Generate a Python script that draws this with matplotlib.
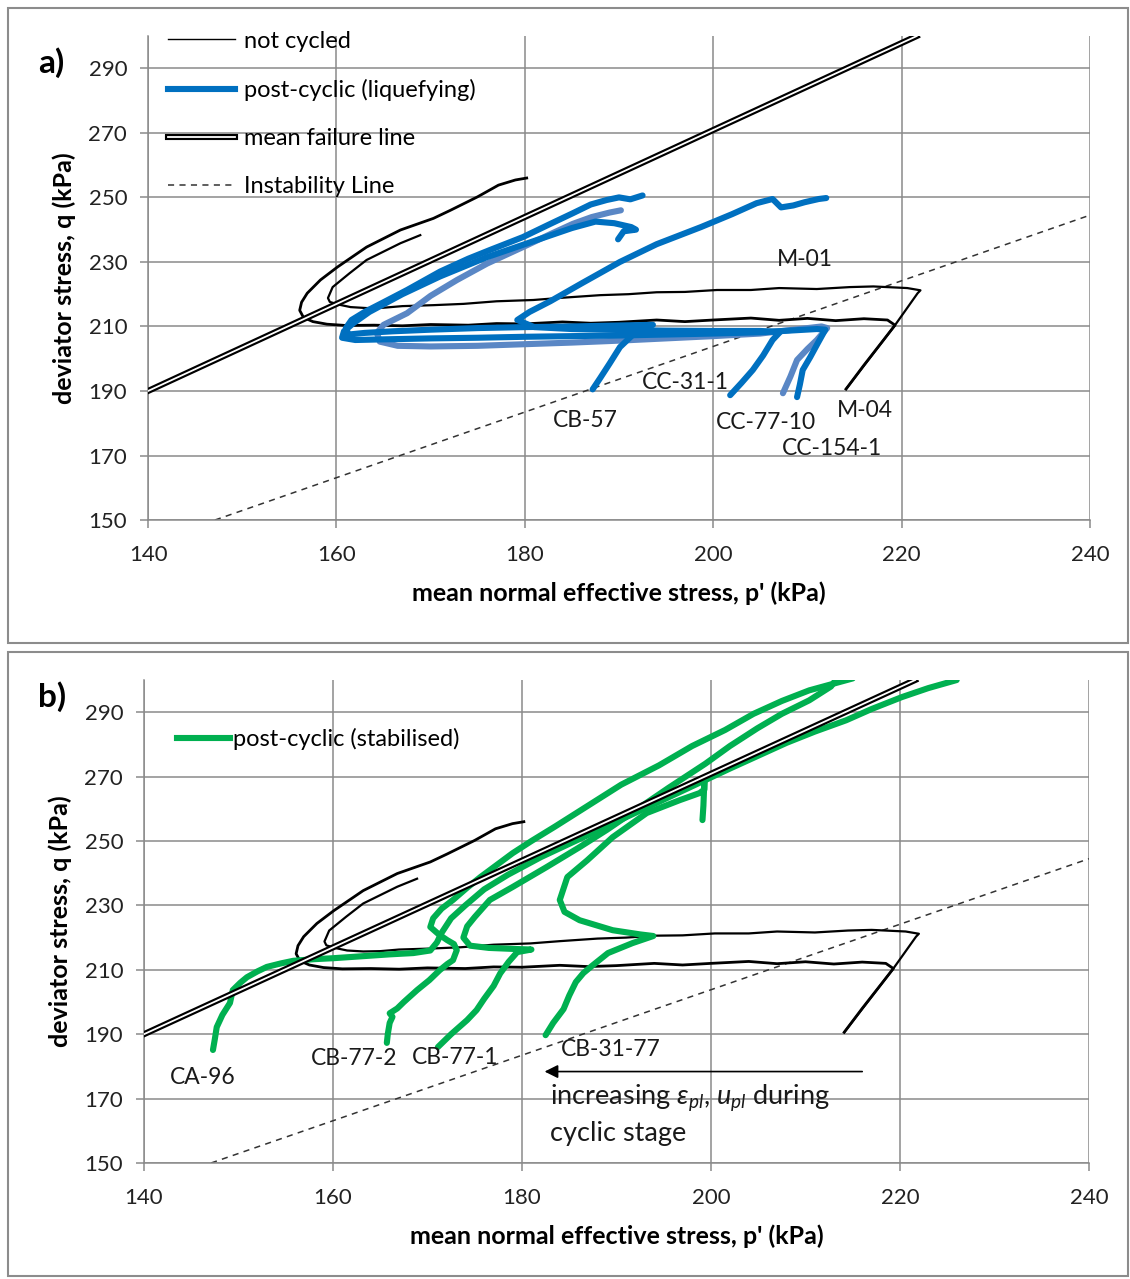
import matplotlib
matplotlib.use("Agg")
import matplotlib.pyplot as plt
import matplotlib.patheffects as pe
from matplotlib.lines import Line2D
from matplotlib.patches import Rectangle

plt.rcParams['font.family'] = ['Lato', 'DejaVu Sans']
plt.rcParams['mathtext.fontset'] = 'custom'
plt.rcParams['mathtext.rm'] = 'Lato'
plt.rcParams['mathtext.it'] = 'Lato:italic'

# ---- reference lines (kPa) ----
fail_p = [140.0, 221.6]
fail_q = [190.0, 300.0]
inst_p = [147.1, 240.0]
inst_q = [150.0, 244.5]

# ---- not cycled (monotonic) tests ----
m04_p = [214.1, 216.0, 218.0, 219.3, 218.5, 216.0, 213.0, 210.0, 207.0, 204.0, 200.0, 197.0,
         194.0, 190.0, 187.0, 184.0, 180.0, 177.0, 174.0, 170.0, 167.0, 164.0, 161.0, 159.0,
         157.5, 156.5, 156.1, 156.3, 156.9, 158.3, 160.1, 163.2, 166.8, 170.3, 172.1, 175.0,
         177.2, 179.0, 180.2]
m04_q = [190.6, 198.0, 205.5, 210.4, 212.0, 212.4, 211.8, 212.5, 211.9, 212.6, 212.0, 211.5,
         212.0, 211.3, 211.0, 211.4, 210.8, 210.9, 210.4, 210.6, 210.2, 210.4, 210.3, 210.7,
         211.5, 212.8, 215.0, 217.5, 220.3, 224.4, 228.4, 234.6, 239.9, 243.5, 246.0, 250.2,
         253.8, 255.4, 256.0]
m01_p = [214.1, 219.3, 221.7, 222.0, 220.6, 217.0, 214.5, 211.0, 207.0, 204.0, 200.4, 197.0,
         194.0, 191.0, 188.0, 184.0, 180.9, 177.0, 173.5, 170.3, 167.0, 165.0, 163.2, 161.5,
         160.2, 159.3, 159.1, 159.6, 161.4, 163.2, 166.8, 168.9]
m01_q = [190.6, 210.4, 220.3, 221.2, 221.9, 222.4, 222.2, 221.6, 221.9, 221.3, 221.3, 220.7,
         220.6, 220.0, 219.7, 218.9, 218.2, 217.8, 217.0, 216.6, 216.3, 215.8, 215.7, 216.0,
         216.8, 217.6, 218.8, 222.2, 226.5, 230.6, 235.8, 238.3]

# ---- panel a: post-cyclic (liquefying) ----
cb57_p = [187.2, 188.0, 189.0, 190.1, 191.5, 193.0, 193.6, 190.0, 185.0, 180.0, 175.0, 170.0,
          166.0, 163.0, 161.3, 161.0, 161.6, 163.0, 165.0, 167.5, 171.0, 174.0, 176.3, 179.8,
          182.5, 185.1, 187.0, 188.7, 190.0, 191.2, 192.5]
cb57_q = [190.5, 194.0, 198.5, 203.6, 207.5, 209.8, 210.5, 210.3, 210.0, 209.8, 209.5, 209.0,
          208.5, 208.0, 207.5, 209.5, 212.0, 214.5, 217.5, 221.3, 227.0, 231.0, 233.7, 237.7,
          241.5, 245.1, 247.8, 249.2, 250.0, 249.4, 250.6]
cc31_p = [201.8, 203.0, 204.2, 205.3, 206.3, 207.1, 205.0, 200.0, 195.0, 190.0, 185.0, 181.0,
          179.2, 180.5, 182.7, 186.0, 190.1, 194.0, 198.7, 202.0, 204.6, 206.3, 207.2, 208.5,
          209.7, 211.2, 212.0]
cc31_q = [188.7, 192.5, 196.5, 201.0, 205.8, 208.3, 208.6, 208.6, 208.7, 208.9, 209.2, 209.8,
          212.0, 214.5, 217.8, 223.3, 230.0, 235.5, 240.8, 244.8, 248.2, 249.5, 246.9, 247.5,
          248.5, 249.5, 249.8]
cc77_p = [207.4, 208.2, 208.9, 210.0, 211.0, 212.1, 211.5, 205.0, 200.0, 195.0, 190.0, 185.0,
          180.0, 175.0, 170.0, 166.5, 164.6, 164.3, 165.0, 167.5, 170.0, 172.8, 176.0, 179.8,
          183.0, 185.1, 187.1, 189.0, 190.2]
cc77_q = [189.3, 194.5, 199.6, 203.0, 205.8, 209.5, 210.0, 207.8, 207.0, 206.3, 205.6, 205.0,
          204.5, 204.0, 203.8, 204.0, 205.3, 208.0, 210.5, 214.1, 219.5, 224.4, 229.5, 234.6,
          239.0, 241.8, 243.9, 245.3, 246.0]
cc154_p = [208.9, 209.2, 209.5, 210.3, 211.1, 211.9, 211.0, 205.0, 200.0, 195.0, 190.0, 185.0,
           180.0, 175.0, 170.0, 165.0, 162.0, 160.6, 160.8, 161.8, 163.5, 167.0, 171.0, 176.0,
           181.0, 185.0, 187.5, 189.5, 191.3, 191.8, 190.5, 189.9]
cc154_q = [188.1, 192.0, 196.5, 200.5, 204.8, 209.0, 209.2, 208.2, 207.8, 207.5, 207.2, 207.0,
           206.8, 206.5, 206.3, 206.0, 205.8, 206.5, 208.5, 211.0, 214.5, 220.0, 225.5, 231.5,
           236.5, 240.5, 242.5, 242.0, 240.8, 240.0, 239.5, 237.0]

# ---- panel b: post-cyclic (stabilised) ----
ca96_p = [147.3, 147.5, 147.7, 148.3, 149.1, 149.4, 150.2, 150.9, 152.0, 153.0, 154.5, 155.8,
          158.0, 160.0, 163.0, 166.0, 168.5, 170.3, 171.0, 171.5, 172.5, 174.0, 176.0, 178.5,
          182.0, 186.0, 190.0, 194.0, 198.0, 202.0, 205.0, 208.0, 211.0, 214.3, 217.0, 220.2,
          223.0, 226.0]
ca96_q = [185.1, 188.5, 192.2, 196.0, 199.7, 203.7, 206.0, 207.7, 209.5, 210.9, 212.0, 212.8,
          213.3, 213.6, 214.2, 214.8, 215.2, 216.0, 218.5, 221.5, 226.0, 230.0, 235.0, 239.5,
          245.0, 250.5, 256.0, 261.5, 267.0, 272.5, 276.5, 280.5, 284.0, 287.5, 291.0, 294.7,
          297.5, 300.0]
cb772_p = [165.7, 165.8, 166.0, 166.3, 166.0, 166.8, 167.5, 168.9, 170.2, 171.3, 172.1, 172.7,
           173.1, 172.8, 172.1, 171.2, 170.3, 170.6, 171.5, 172.7, 174.2, 175.6, 177.3, 179.0,
           181.0, 183.5, 187.0, 190.5, 194.5, 198.0, 201.5, 204.5, 207.5, 210.4, 213.5, 215.0]
cb772_q = [187.3, 190.0, 193.5, 195.4, 196.5, 198.0, 200.0, 203.7, 206.8, 209.9, 211.8, 213.0,
           216.1, 218.0, 219.2, 221.0, 223.3, 226.0, 229.0, 231.7, 235.5, 238.8, 242.5, 246.2,
           250.0, 254.5, 261.0, 267.5, 273.5, 279.5, 284.5, 289.5, 293.5, 296.8, 299.3, 300.5]
cb771_p = [171.1, 172.5, 174.2, 175.2, 176.0, 177.0, 177.7, 178.6, 179.5, 181.0, 179.0, 176.5,
           174.5, 173.8, 174.2, 175.0, 176.6, 179.0, 182.6, 186.1, 189.0, 192.0, 195.5, 199.4,
           202.0, 204.9, 207.5, 210.4, 212.7, 213.2]
cb771_q = [186.0, 190.0, 194.4, 197.5, 201.0, 205.0, 208.9, 212.5, 215.5, 216.3, 216.5, 216.8,
           217.5, 220.0, 223.5, 226.4, 231.7, 235.7, 241.9, 248.1, 253.5, 259.5, 266.5, 274.0,
           279.5, 285.0, 289.5, 293.7, 298.0, 300.0]
cb3177_p = [182.5, 183.3, 184.4, 185.0, 185.7, 186.5, 187.4, 189.1, 191.7, 193.9, 192.5, 189.6,
            186.1, 184.5, 184.0, 184.8, 186.9, 189.6, 193.2, 196.7, 198.8, 199.3, 199.3, 199.2,
            199.1]
cb3177_q = [189.7, 193.5, 197.8, 202.0, 206.2, 209.0, 211.2, 215.2, 218.3, 220.5, 221.0, 222.3,
            225.4, 228.0, 231.7, 238.8, 244.0, 251.2, 258.7, 262.7, 264.9, 266.0, 268.5, 261.0,
            256.5]

# ---- labels ----
labels_a = ['M-01', 'CC-31-1', 'CB-57', 'CC-77-10', 'M-04', 'CC-154-1']
labels_a_pos = [(209.7, 230.6), (197.0, 192.5), (186.4, 180.7), (205.6, 180.1),
                (216.1, 183.8), (212.6, 172.3)]
labels_b = ['CA-96', 'CB-77-2', 'CB-77-1', 'CB-31-77']
labels_b_pos = [(146.2, 176.7), (162.2, 182.3), (172.9, 182.9), (189.4, 185.1)]

xticks = [140, 160, 180, 200, 220, 240]
yticks = [150, 170, 190, 210, 230, 250, 270, 290]

DARK_BLUE = '#0070C0'
STEEL_BLUE = '#5A87C5'
GREEN = '#00B050'
GRID = '#8a8a8a'
LW_TEST = 4.4

fail_fx = [pe.Stroke(linewidth=4.4, foreground='black'), pe.Normal()]


def base_panel(ax):
    ax.set_xlim(140, 240)
    ax.set_ylim(150, 300)
    ax.set_xticks(xticks)
    ax.set_yticks(yticks)
    ax.grid(True, color=GRID, lw=1.1)
    ax.set_axisbelow(True)
    for s in ['top', 'right']:
        ax.spines[s].set_visible(False)
    for s in ['left', 'bottom']:
        ax.spines[s].set_color(GRID)
        ax.spines[s].set_linewidth(1.1)
    ax.tick_params(length=6, width=1.1, color=GRID, labelsize=16, pad=9, labelcolor='#222222')
    ax.tick_params(axis='x', pad=12)
    ax.set_xlabel("mean normal effective stress, p' (kPa)", fontsize=18, fontweight='bold',
                  labelpad=12)
    ax.set_ylabel('deviator stress, q (kPa)', fontsize=18, fontweight='bold', labelpad=9)
    ax.plot(inst_p, inst_q, ls=(0, (4, 3.5)), color='#333333', lw=1.1, zorder=2)
    ax.plot(m04_p, m04_q, color='black', lw=2.0, zorder=3)
    ax.plot(m01_p, m01_q, color='black', lw=1.6, zorder=3)


fig = plt.figure(figsize=(11.3, 12.79), dpi=100)
ax1 = fig.add_axes([0.1310, 0.5934, 0.8336, 0.3784])
ax2 = fig.add_axes([0.1274, 0.0907, 0.8363, 0.3776])

# panel a
base_panel(ax1)
ax1.plot(cc77_p, cc77_q, color=STEEL_BLUE, lw=LW_TEST, zorder=4, solid_capstyle='round')
for pp, qq in [(cb57_p, cb57_q), (cc31_p, cc31_q), (cc154_p, cc154_q)]:
    ax1.plot(pp, qq, color=DARK_BLUE, lw=LW_TEST, zorder=4, solid_capstyle='round')
ax1.plot(fail_p, fail_q, color='white', lw=1.3, path_effects=fail_fx, zorder=5)
for t, (x, y) in zip(labels_a, labels_a_pos):
    ax1.text(x, y, t, fontsize=16.5, ha='center', va='center', color='#1a1a1a', zorder=6)

leg_a = [Line2D([], [], color='black', lw=1.0),
         Line2D([], [], color=DARK_BLUE, lw=LW_TEST),
         Line2D([], [], color='white', lw=1.3, path_effects=fail_fx),
         Line2D([], [], color='#333333', lw=1.1, ls=(0, (4, 3.5)))]
ax1.legend(leg_a, ['not cycled', 'post-cyclic (liquefying)', 'mean failure line',
                   'Instability Line'],
           loc='upper left', bbox_to_anchor=(0.021, 1.0114), frameon=False, fontsize=17,
           handlelength=2.84, handletextpad=0.38, labelspacing=1.15, borderpad=0,
           borderaxespad=0)
ax1.text(-0.1168, 0.946, 'a)', transform=ax1.transAxes, fontsize=24, fontweight='bold',
         ha='left', va='center')

# panel b
base_panel(ax2)
for pp, qq in [(ca96_p, ca96_q), (cb772_p, cb772_q), (cb771_p, cb771_q), (cb3177_p, cb3177_q)]:
    ax2.plot(pp, qq, color=GREEN, lw=LW_TEST, zorder=4, solid_capstyle='round')
ax2.plot(fail_p, fail_q, color='white', lw=1.3, path_effects=fail_fx, zorder=5)
for t, (x, y) in zip(labels_b, labels_b_pos):
    ax2.text(x, y, t, fontsize=16.5, ha='center', va='center', color='#1a1a1a', zorder=6)
ax2.annotate('', xy=(182.1, 178.4), xytext=(216.3, 178.4),
             arrowprops=dict(arrowstyle='-|>', color='black', lw=1.2, mutation_scale=20))
ax2.text(183.0, 170.2, 'increasing $\\varepsilon_{pl}$, $u_{pl}$ during', fontsize=19.5,
         ha='left', va='center', color='#1a1a1a')
ax2.text(183.0, 159.3, 'cyclic stage', fontsize=19.5, ha='left', va='center', color='#1a1a1a')
leg_b = [Line2D([], [], color=GREEN, lw=LW_TEST)]
ax2.legend(leg_b, ['post-cyclic (stabilised)'], loc='upper left', bbox_to_anchor=(0.035, 0.9),
           frameon=False, fontsize=17, handlelength=2.25, handletextpad=0.13, borderpad=0,
           borderaxespad=0)
ax2.text(-0.112, 0.965, 'b)', transform=ax2.transAxes, fontsize=24, fontweight='bold',
         ha='left', va='center')

# panel frames
fig.add_artist(Rectangle((0.0071, 0.4973), 0.9912, 0.4965, transform=fig.transFigure,
                         fill=False, ec='#8c8c8c', lw=1.5))
fig.add_artist(Rectangle((0.0071, 0.0024), 0.9912, 0.4879, transform=fig.transFigure,
                         fill=False, ec='#8c8c8c', lw=1.5))

fig.savefig('out.png', dpi=100, facecolor='white')
